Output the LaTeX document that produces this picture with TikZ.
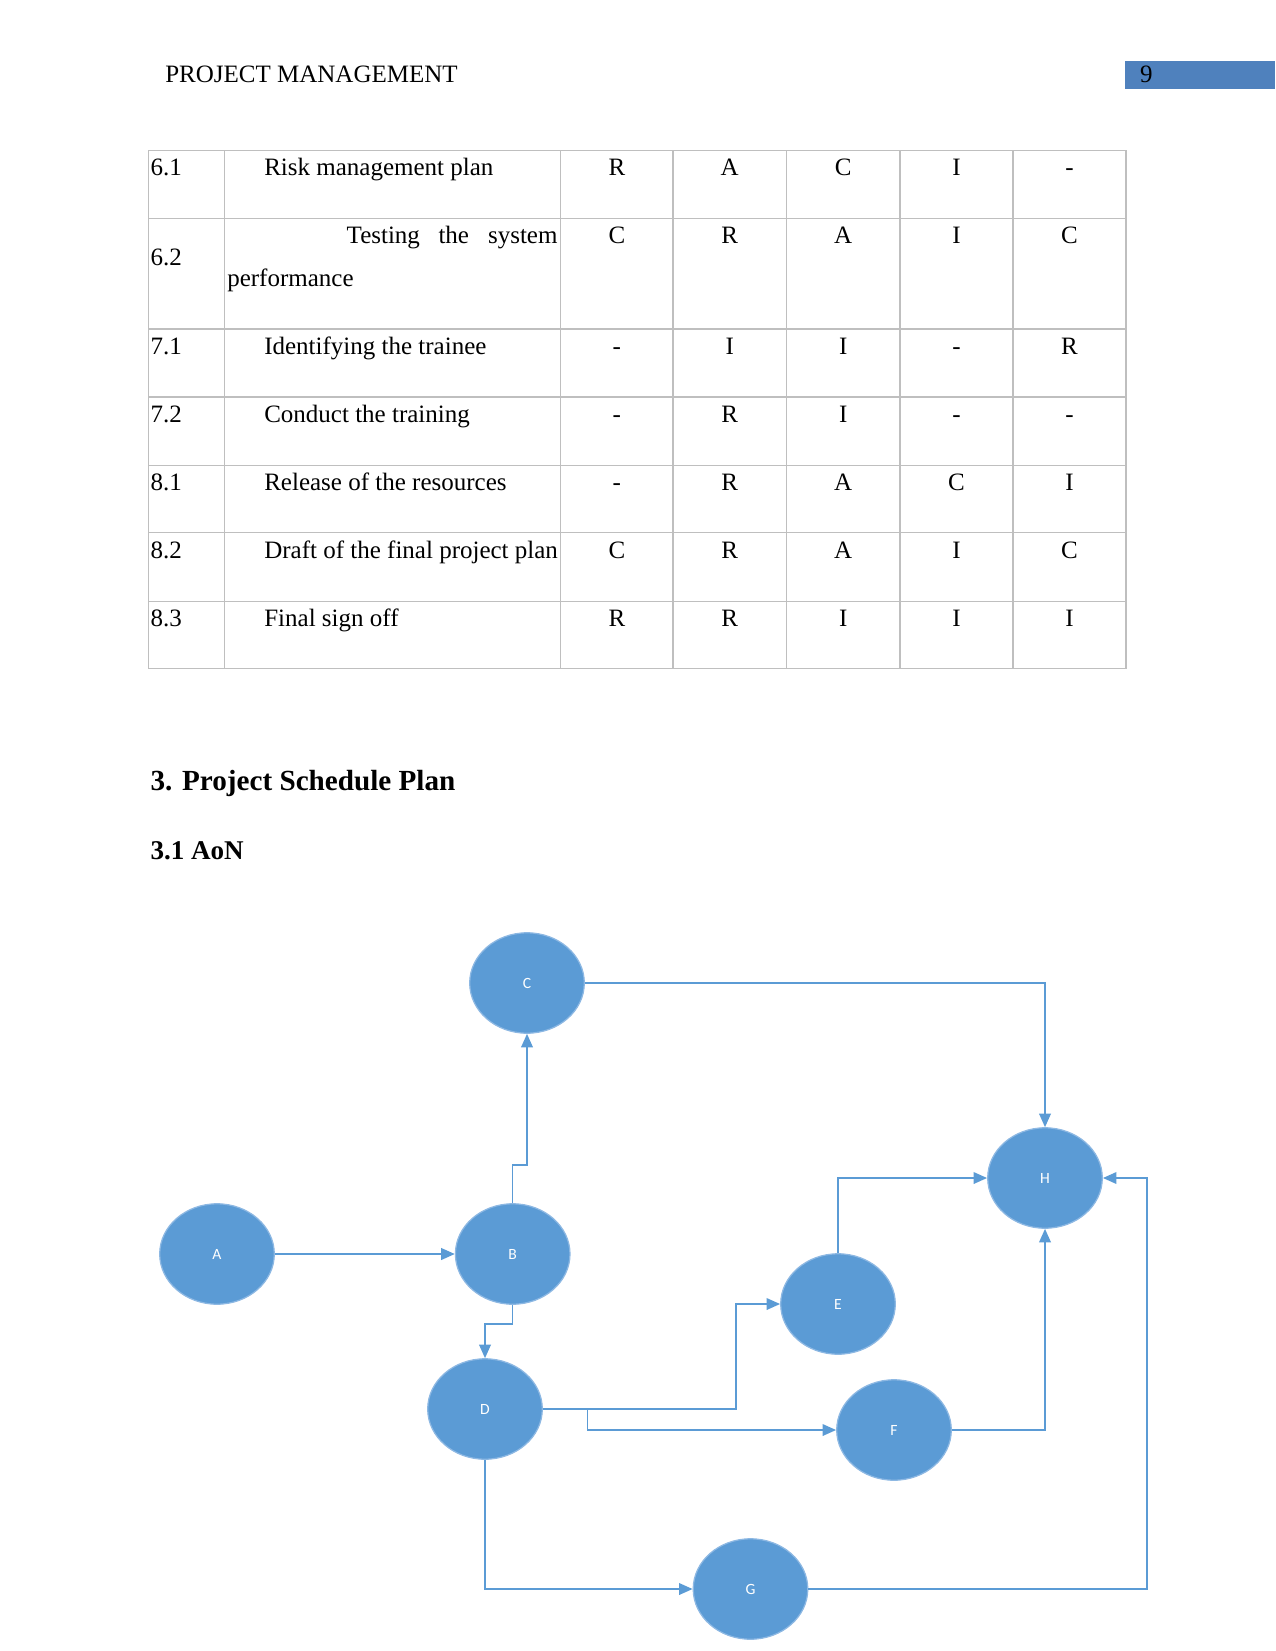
\documentclass[tikz,border=0pt]{standalone}
\usepackage{fontspec}
\setmainfont{Liberation Serif}
\newfontfamily\calibrifont{Carlito}
\usetikzlibrary{arrows.meta,shapes.geometric,calc}
\definecolor{officeblue}{HTML}{5B9BD5}
\definecolor{edgeblue}{HTML}{8DB8E3}
\definecolor{pageblue}{HTML}{4F81BD}
\definecolor{gridgray}{HTML}{BFBFBF}
\tikzset{
  txt/.style={anchor=base west,inner sep=0pt,outer sep=0pt,font=\fontsize{12}{14}\selectfont},
  ctxt/.style={anchor=base,inner sep=0pt,outer sep=0pt,font=\fontsize{12}{14}\selectfont},
  grid/.style={draw=gridgray,line width=0.5pt},
  act/.style={ellipse,fill=officeblue,draw=edgeblue,line width=0.6pt,minimum width=55pt,minimum height=48.2pt,inner sep=0pt,text=white,font=\calibrifont\fontsize{7.5}{8}\selectfont},
  arr/.style={draw=officeblue,line width=0.75pt,-{Triangle[length=6.5pt,width=5.6pt]}},
  ln/.style={draw=officeblue,line width=0.75pt}
}
\begin{document}
\begin{tikzpicture}[x=0.48pt,y=-0.48pt]
\useasboundingbox (0,0) rectangle (1275,1651);
% header
\node[txt] (hdr) at (165.3,83) {PROJECT MANAGEMENT};
\fill[pageblue] (1125,61) rectangle (1275,88.7);
\node[txt] (pgnum) at (1140,83) {9};
% table grid
\draw[grid] (148.3,150.7) rectangle (1126,668.5);
\foreach \x in {224.3,560.7,673,786.4,900,1013}
  \draw[grid] (\x,150.7) -- (\x,668.5);
\foreach \y in {218.3,329,397,465.3,532.7,601.1}
  \draw[grid] (148.3,\y) -- (1126,\y);
% table texts
\foreach \id/\y/\desc [count=\i] in {6.1/176/Risk management plan,7.1/354.3/Identifying the trainee,7.2/422.3/Conduct the training,8.1/490.6/Release of the resources,8.2/558/Draft of the final project plan,8.3/626.4/Final sign off}{
  \node[txt] (id\i) at (150.5,\y) {\id};
  \node[txt] (ds\i) at (264.3,\y) {\desc};
}
\node[txt] (id62) at (150.5,265.3) {6.2};
\node[txt] (ds62a) at (346.7,243.3) {Testing};
\node[ctxt] (ds62b) at (453.8,243.3) {the};
\node[txt,anchor=base east] (ds62c) at (557.5,243.3) {system};
\node[txt] (ds62d) at (227.3,286.7) {performance};
\foreach \y/\a/\b/\c/\d/\e [count=\i] in {176/R/A/C/I/-,243.3/C/R/A/I/C,354.3/-/I/I/-/R,422.3/-/R/I/-/-,490.6/-/R/A/C/I,558/C/R/A/I/C,626.4/R/R/I/I/I}{
  \node[ctxt] (r\i a) at (616.85,\y) {\a};
  \node[ctxt] (r\i b) at (729.7,\y) {\b};
  \node[ctxt] (r\i c) at (843.2,\y) {\c};
  \node[ctxt] (r\i d) at (956.5,\y) {\d};
  \node[ctxt] (r\i e) at (1069.5,\y) {\e};
}
% headings
\node[txt,font=\bfseries\fontsize{14}{16}\selectfont] (h3) at (150.5,790) {3. Project Schedule Plan};
\node[txt,font=\bfseries\fontsize{13}{15}\selectfont] (h31) at (150.5,859.3) {3.1 AoN};
% AoN nodes
\node[act] (A) at (217,1254) {A};
\node[act] (B) at (512.7,1254) {B};
\node[act] (C) at (527,983) {C};
\node[act] (D) at (485,1409) {D};
\node[act] (E) at (838,1304) {E};
\node[act] (F) at (894,1430) {F};
\node[act] (G) at (750.5,1589) {G};
\node[act] (H) at (1045,1178) {H};
% bend points
\coordinate (bc) at (512.7,1165);
\coordinate (bd) at (512.7,1324);
\coordinate (de) at (736,1409);
\coordinate (df) at (587.5,1409);
\coordinate (gh) at (1147,1589);
% connectors
\draw[arr] (A.east) -- (B.west);
\draw[arr] (B.north) -- (bc) -- (C.south |- bc) -- (C.south);
\draw[arr] (C.east) -| (H.north);
\draw[arr] (B.south) -- (bd) -| (D.north);
\draw[arr] (D.east) -- (de) |- (E.west);
\draw[arr] (D.east) -- (df) |- (F.west);
\draw[arr] (D.south) |- (G.west);
\draw[arr] (E.north) |- (H.west);
\draw[arr] (F.east) -| (H.south);
\draw[arr] (G.east) -- (gh) |- (H.east);
\end{tikzpicture}
\end{document}
